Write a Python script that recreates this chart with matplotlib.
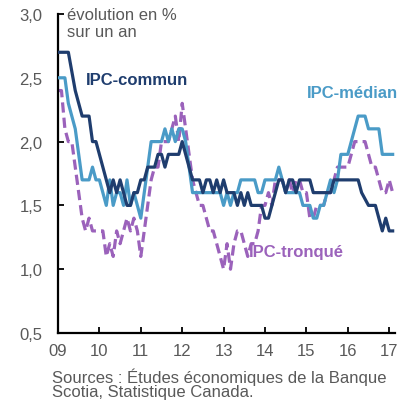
import numpy as np
import matplotlib
matplotlib.use('Agg')
import matplotlib.pyplot as plt
from matplotlib import rcParams
from matplotlib.ticker import FuncFormatter

rcParams['font.family'] = ['Liberation Sans', 'DejaVu Sans']
rcParams['font.size'] = 12
rcParams['xtick.direction'] = 'in'
rcParams['ytick.direction'] = 'in'

# monthly values, Jan 2009 - Feb 2017 (year-over-year %)
commun = [2.7, 2.7, 2.7, 2.7, 2.55, 2.4, 2.3, 2.2, 2.2, 2.2, 2.0, 2.0,
          1.9, 1.8, 1.7, 1.6, 1.7, 1.6, 1.7, 1.6, 1.5, 1.5, 1.6, 1.6,
          1.7, 1.7, 1.8, 1.8, 1.8, 1.9, 1.9, 1.8, 1.9, 1.9, 1.9, 1.9,
          2.0, 1.9, 1.8, 1.7, 1.7, 1.7, 1.6, 1.7, 1.7, 1.6, 1.7, 1.6,
          1.7, 1.6, 1.6, 1.6, 1.5, 1.6, 1.5, 1.6, 1.5, 1.5, 1.5, 1.5,
          1.4, 1.4, 1.5, 1.6, 1.7, 1.7, 1.6, 1.7, 1.7, 1.6, 1.7, 1.7,
          1.7, 1.7, 1.6, 1.6, 1.6, 1.6, 1.6, 1.6, 1.7, 1.7, 1.7, 1.7,
          1.7, 1.7, 1.7, 1.7, 1.6, 1.55, 1.5, 1.5, 1.5, 1.4, 1.3, 1.4,
          1.3, 1.3]
median = [2.5, 2.5, 2.5, 2.3, 2.2, 2.1, 1.9, 1.7, 1.7, 1.7, 1.8, 1.7,
          1.7, 1.6, 1.5, 1.7, 1.5, 1.6, 1.6, 1.5, 1.7, 1.5, 1.6, 1.5,
          1.4, 1.6, 1.8, 2.0, 2.0, 2.0, 2.0, 2.1, 2.0, 2.1, 2.0, 2.1,
          2.1, 2.0, 1.8, 1.6, 1.6, 1.6, 1.6, 1.6, 1.6, 1.6, 1.6, 1.6,
          1.5, 1.6, 1.5, 1.6, 1.6, 1.7, 1.7, 1.7, 1.7, 1.7, 1.6, 1.6,
          1.7, 1.7, 1.7, 1.7, 1.8, 1.7, 1.6, 1.6, 1.6, 1.6, 1.6, 1.5,
          1.5, 1.5, 1.4, 1.4, 1.5, 1.5, 1.6, 1.7, 1.6, 1.7, 1.9, 1.9,
          1.9, 2.0, 2.1, 2.2, 2.2, 2.2, 2.1, 2.1, 2.1, 2.1, 1.9, 1.9,
          1.9, 1.9]
tronque = [2.4, 2.4, 2.1, 2.0, 2.0, 1.8, 1.6, 1.4, 1.3, 1.4, 1.3, 1.3,
           1.3, 1.3, 1.1, 1.2, 1.1, 1.3, 1.2, 1.3, 1.4, 1.3, 1.4, 1.3,
           1.1, 1.3, 1.5, 1.7, 1.8, 1.8, 2.0, 2.0, 2.0, 2.1, 2.2, 2.0,
           2.3, 2.1, 1.9, 1.7, 1.6, 1.5, 1.5, 1.4, 1.3, 1.3, 1.2, 1.1,
           1.0, 1.2, 1.0, 1.2, 1.3, 1.3, 1.2, 1.1, 1.2, 1.2, 1.3, 1.5,
           1.5, 1.6, 1.5, 1.7, 1.7, 1.7, 1.6, 1.7, 1.6, 1.7, 1.7, 1.6,
           1.6, 1.4, 1.4, 1.5, 1.5, 1.5, 1.6, 1.6, 1.7, 1.8, 1.8, 1.8,
           1.8, 1.9, 2.0, 2.0, 2.0, 2.0, 1.9, 1.8, 1.8, 1.7, 1.6, 1.6,
           1.7, 1.6]
years = [2009, 2010, 2011, 2012, 2013, 2014, 2015, 2016, 2017]
year_labels = ['09', '10', '11', '12', '13', '14', '15', '16', '17']
yticks = [0.5, 1.0, 1.5, 2.0, 2.5, 3.0]

c_commun = '#1f3d6e'
c_median = '#4a9bc7'
c_tronque = '#9b62bb'
grey = '#595959'

t = 2009 + np.arange(len(commun)) / 12.0

fig = plt.figure(figsize=(4.05, 4.02), dpi=100)
ax = plt.axes([58/405., 68/402., 337/405., 319/402.])

ax.plot(t, tronque, color=c_tronque, lw=2.3, ls=(0, (3.2, 1.6)), zorder=2)
ax.plot(t, median, color=c_median, lw=2.3, zorder=3)
ax.plot(t, commun, color=c_commun, lw=2.3, zorder=4)

ax.set_xlim(2009, 2017.14)
ax.set_ylim(0.5, 3.0)
ax.set_xticks(years)
ax.set_xticklabels(year_labels)
ax.set_yticks(yticks)
ax.yaxis.set_major_formatter(FuncFormatter(lambda v, p: ('%.1f' % v).replace('.', ',')))
ax.tick_params(axis='both', colors='black', labelcolor=grey, length=4, width=1.3)
ax.tick_params(axis='y', pad=11)
ax.tick_params(axis='x', pad=7)
for s in ['top', 'right']:
    ax.spines[s].set_visible(False)
for s in ['left', 'bottom']:
    ax.spines[s].set_linewidth(1.6)

ax.text(2009.68, 2.49, 'IPC-commun', color=c_commun, fontweight='bold', va='center')
ax.text(2015.0, 2.385, 'IPC-médian', color=c_median, fontweight='bold', va='center')
ax.text(2013.61, 1.14, 'IPC-tronqué', color=c_tronque, fontweight='bold', va='center')

fig.text(67/405., 1 - 8/402., 'évolution en %\nsur un an', color=grey, va='top', linespacing=1.2)
fig.text(52/405., 1 - 368/402., 'Sources : Études économiques de la Banque\nScotia, Statistique Canada.',
         color=grey, va='top', linespacing=1.0)

fig.savefig('out.png', dpi=100)
